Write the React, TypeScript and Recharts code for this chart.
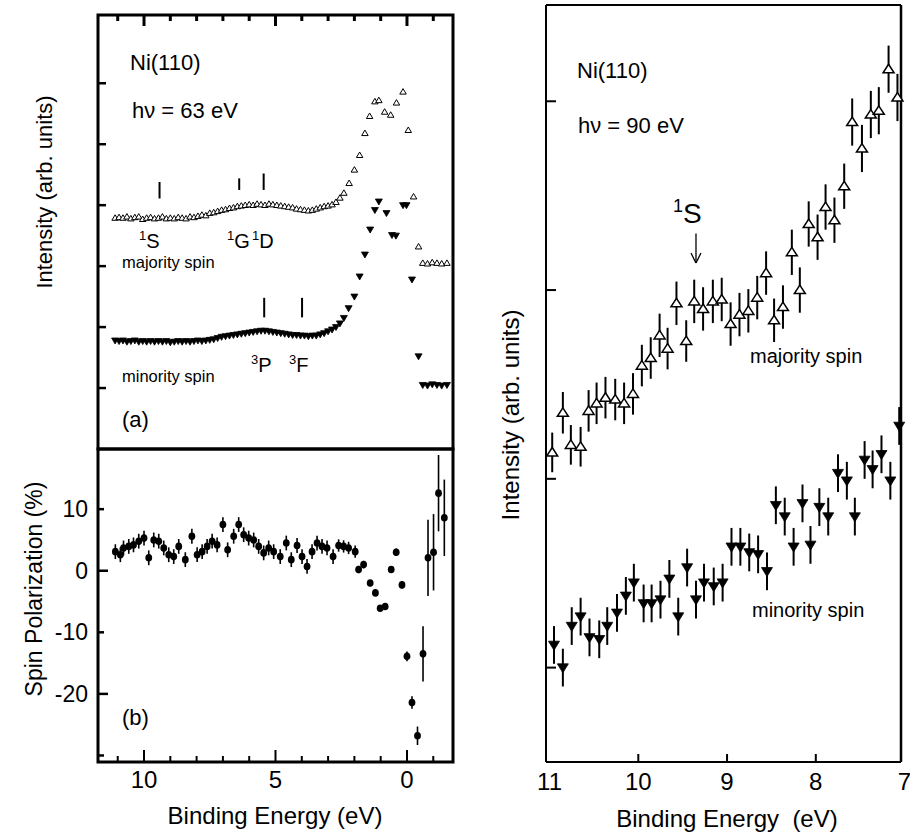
import React from 'react';
import { ScatterChart, Scatter, XAxis, YAxis, ErrorBar, ReferenceLine } from 'recharts';

const FONT = '"Liberation Sans", Arial, Helvetica, sans-serif';

// ---------- Panel (a): spin-resolved intensity, hv = 63 eV ----------
const aMajE = [11.10, 10.95, 10.80, 10.65, 10.50, 10.35, 10.20, 10.05, 9.90, 9.75, 9.60, 9.45, 9.30, 9.15, 9.00, 8.85, 8.70, 8.55, 8.40, 8.25, 8.10, 7.95, 7.80, 7.65, 7.50, 7.35, 7.20, 7.05, 6.90, 6.75, 6.60, 6.45, 6.30, 6.15, 6.00, 5.85, 5.70, 5.55, 5.40, 5.25, 5.10, 4.95, 4.80, 4.65, 4.50, 4.35, 4.20, 4.05, 3.90, 3.75, 3.60, 3.45, 3.30, 3.15, 3.00, 2.85, 2.70, 2.55,
  2.40, 2.20, 2.00, 1.80, 1.60, 1.42, 1.22, 1.07, 0.85, 0.62, 0.40, 0.15, -0.05, -0.25, -0.44, -0.60, -0.78, -0.96, -1.14, -1.32, -1.52];
const aMajI = [3.79, 3.80, 3.79, 3.81, 3.78, 3.80, 3.81, 3.77, 3.79, 3.80, 3.78, 3.79, 3.81, 3.78, 3.79, 3.78, 3.80, 3.79, 3.78, 3.81, 3.80, 3.82, 3.84, 3.83, 3.87, 3.88, 3.90, 3.92, 3.93, 3.95, 3.96, 3.98, 3.99, 4.00, 4.01, 4.00, 4.02, 4.01, 4.00, 4.02, 4.01, 4.00, 3.99, 3.98, 3.97, 3.96, 3.94, 3.93, 3.92, 3.91, 3.92, 3.94, 3.96, 3.98, 3.99, 4.01, 4.05, 4.12,
  4.20, 4.36, 4.58, 4.82, 5.18, 5.46, 5.70, 5.72, 5.53, 5.48, 5.68, 5.86, 5.23, 4.14, 3.32, 3.05, 3.04, 3.06, 3.05, 3.04, 3.05];
const aMinE = [11.10, 10.95, 10.80, 10.65, 10.50, 10.35, 10.20, 10.05, 9.90, 9.75, 9.60, 9.45, 9.30, 9.15, 9.00, 8.85, 8.70, 8.55, 8.40, 8.25, 8.10, 7.95, 7.80, 7.65, 7.50, 7.35, 7.20, 7.05, 6.90, 6.75, 6.60, 6.45, 6.30, 6.15, 6.00, 5.85, 5.70, 5.55, 5.40, 5.25, 5.10, 4.95, 4.80, 4.65, 4.50, 4.35, 4.20, 4.05, 3.90, 3.75, 3.60, 3.45, 3.30, 3.15, 3.00, 2.85, 2.70, 2.55,
  2.40, 2.22, 2.00, 1.80, 1.60, 1.40, 1.22, 1.07, 0.78, 0.57, 0.42, 0.15, 0.02, -0.19, -0.44, -0.60, -0.78, -0.96, -1.14, -1.32, -1.52];
const aMinI = [1.78, 1.77, 1.78, 1.76, 1.77, 1.78, 1.76, 1.77, 1.76, 1.77, 1.76, 1.77, 1.76, 1.77, 1.75, 1.76, 1.77, 1.76, 1.77, 1.76, 1.77, 1.78, 1.77, 1.78, 1.79, 1.80, 1.82, 1.84, 1.85, 1.86, 1.87, 1.88, 1.89, 1.90, 1.91, 1.92, 1.93, 1.94, 1.94, 1.93, 1.92, 1.91, 1.90, 1.89, 1.88, 1.87, 1.87, 1.86, 1.86, 1.85, 1.86, 1.86, 1.88, 1.90, 1.93, 1.96, 2.00, 2.06,
  2.15, 2.31, 2.50, 2.83, 3.19, 3.60, 3.92, 4.06, 3.87, 3.51, 3.50, 4.00, 4.00, 2.78, 1.52, 1.05, 1.04, 1.06, 1.05, 1.04, 1.05];

// ---------- Panel (b): spin polarization ----------
const bE = [11.09, 10.90, 10.78, 10.58, 10.40, 10.20, 10.00, 9.82, 9.63, 9.44, 9.25, 9.06, 8.87, 8.68, 8.43, 8.18, 7.98, 7.79, 7.60, 7.41, 7.22, 7.00, 6.82, 6.59, 6.40, 6.21, 6.02, 5.83, 5.64, 5.45, 5.26, 5.07, 4.82, 4.59, 4.40, 4.18, 3.99, 3.80, 3.61, 3.42, 3.23, 3.04, 2.81, 2.60, 2.41, 2.22, 1.97, 1.84, 1.65, 1.40, 1.20, 1.02, 0.83, 0.60, 0.41, 0.19, 0.00, -0.19, -0.40, -0.61, -0.80, -1.01, -1.20, -1.42];
const bP = [3.1, 2.6, 3.7, 3.95, 4.2, 4.8, 5.3, 2.1, 5.0, 4.8, 3.7, 2.6, 2.3, 3.95, 1.8, 5.6, 2.6, 3.1, 3.95, 4.8, 4.2, 7.5, 3.4, 5.6, 7.5, 5.85, 5.3, 5.0, 3.95, 2.9, 3.7, 3.1, 2.3, 4.5, 1.8, 4.1, 2.3, 0.7, 3.1, 4.5, 3.95, 3.7, 2.3, 4.1, 3.95, 3.7, 3.1, 0.2, 1.0, -2.0, -3.6, -6.1, -5.8, 0.2, 3.0, -2.3, -13.9, -21.4, -26.8, -13.5, 2.1, 3.0, 12.6, 8.6];
const bErr = [1.2, 1.2, 1.2, 1.2, 1.2, 1.2, 1.2, 1.2, 1.2, 1.2, 1.2, 1.2, 1.2, 1.2, 1.2, 1.2, 1.2, 1.2, 1.2, 1.2, 1.2, 1.2, 1.2, 1.2, 1.2, 1.2, 1.2, 1.2, 1.2, 1.2, 1.2, 1.2, 1.2, 1.2, 1.2, 1.2, 1.2, 1.2, 1.2, 1.2, 1.2, 1.2, 1.2, 1.0, 1.0, 1.0, 1.0, 0.6, 0.6, 0.5, 0.5, 0.5, 0.5, 0.5, 0.6, 0.6, 0.8, 1.0, 1.5, 4.5, 6.2, 6.2, 6.2, 6.2];

// ---------- Right panel: hv = 90 eV ----------
const cMajE = [10.97, 10.85, 10.76, 10.65, 10.56, 10.47, 10.37, 10.26, 10.16, 10.06, 9.96, 9.86, 9.76, 9.67, 9.57, 9.46, 9.37, 9.27, 9.16, 9.06, 8.96, 8.86, 8.76, 8.66, 8.56, 8.47, 8.37, 8.27, 8.18, 8.08, 7.98, 7.89, 7.79, 7.68, 7.59, 7.48, 7.38, 7.29, 7.18, 7.08];
const cMajI = [1.64, 1.85, 1.68, 1.67, 1.86, 1.90, 1.93, 1.92, 1.90, 1.95, 2.10, 2.14, 2.26, 2.19, 2.43, 2.23, 2.44, 2.40, 2.44, 2.45, 2.32, 2.37, 2.39, 2.46, 2.59, 2.34, 2.41, 2.70, 2.50, 2.85, 2.78, 2.94, 2.87, 3.05, 3.39, 3.25, 3.43, 3.45, 3.67, 3.52];
const cMajErr = [0.105, 0.11, 0.105, 0.105, 0.11, 0.11, 0.11, 0.11, 0.11, 0.11, 0.11, 0.11, 0.115, 0.11, 0.115, 0.11, 0.115, 0.115, 0.115, 0.115, 0.115, 0.115, 0.115, 0.115, 0.115, 0.115, 0.115, 0.12, 0.12, 0.12, 0.12, 0.12, 0.12, 0.12, 0.125, 0.125, 0.125, 0.125, 0.125, 0.125];
const cMinE = [10.95, 10.85, 10.75, 10.65, 10.55, 10.44, 10.35, 10.24, 10.14, 10.05, 9.94, 9.85, 9.75, 9.65, 9.55, 9.45, 9.35, 9.26, 9.15, 9.05, 8.95, 8.85, 8.75, 8.65, 8.55, 8.45, 8.35, 8.25, 8.15, 8.06, 7.96, 7.86, 7.75, 7.65, 7.56, 7.45, 7.36, 7.26, 7.16, 7.06];
const cMinI = [0.62, 0.50, 0.72, 0.77, 0.66, 0.65, 0.72, 0.79, 0.88, 0.95, 0.84, 0.84, 0.86, 0.97, 0.77, 1.03, 0.86, 0.95, 0.93, 0.95, 1.14, 1.14, 1.11, 1.10, 1.01, 1.36, 1.30, 1.14, 1.37, 1.15, 1.35, 1.30, 1.53, 1.49, 1.30, 1.60, 1.55, 1.63, 1.49, 1.78];
const cMinErr = [0.1, 0.1, 0.1, 0.1, 0.1, 0.1, 0.1, 0.1, 0.1, 0.1, 0.1, 0.1, 0.1, 0.1, 0.1, 0.1, 0.1, 0.1, 0.1, 0.1, 0.1, 0.1, 0.1, 0.1, 0.1, 0.1, 0.1, 0.1, 0.1, 0.1, 0.1, 0.1, 0.1, 0.1, 0.1, 0.1, 0.1, 0.1, 0.1, 0.1];

// ---------- Axis ticks ----------
const leftXTicks = [-1, 0, 1, 2, 3, 4, 5, 6, 7, 8, 9, 10, 11];
const leftXMajor = [0, 5, 10];
const aYTicks = [1, 2, 3, 4, 5, 6];
const bYTicks = [10, 0, -10, -20, -30];
const bYLabels = [10, 0, -10, -20];
const cXTicks = [7, 8, 9, 10, 11];
const cXLines = [8, 9, 10];
const cYTicks = [0.5, 1.5, 2.5, 3.5];

// ---------- Axis ranges and left-column frame (plot box in page pixels) ----------
const LX0 = -1.75, LX1 = 11.75;
const AY0 = 0, AY1 = 7.12;
const BY0 = -31.06, BY1 = 19.77;
const PL = 98, PR = 453, PA_TOP = 15, PA_BOT = 449, PB_BOT = 762;

const aMaj = aMajE.map((e, i) => ({ e, v: aMajI[i] }));
const aMin = aMinE.map((e, i) => ({ e, v: aMinI[i] }));
const bPol = bE.map((e, i) => ({ e, v: bP[i], err: bErr[i] }));
const cMaj = cMajE.map((e, i) => ({ e, v: cMajI[i], err: cMajErr[i] }));
const cMin = cMinE.map((e, i) => ({ e, v: cMinI[i], err: cMinErr[i] }));

type Side = 'top' | 'bottom' | 'left' | 'right';
interface TickOpts { side: Side; major: number[]; labels: number[]; majorLen: number; minorLen: number; fs?: number; sw?: number; off?: number; }
const has = (arr: number[], v: number) => arr.some((m) => Math.abs(m - v) < 1e-6);
const makeTick = (o: TickOpts) => (props: any) => {
  const x = Number(props.x);
  const y = Number(props.y);
  const v = Number(props.payload.value);
  const len = has(o.major, v) ? o.majorLen : o.minorLen;
  let x2 = x, y2 = y;
  if (o.side === 'bottom') y2 = y - len;
  if (o.side === 'top') y2 = y + len;
  if (o.side === 'left') x2 = x + len;
  if (o.side === 'right') x2 = x - len;
  let label: any = null;
  if (has(o.labels, v)) {
    const fs = o.fs ?? 24;
    if (o.side === 'bottom') label = <text x={x} y={y + (o.off ?? 26)} textAnchor="middle" fontSize={fs} fontFamily={FONT} fill="#000" stroke="none">{v}</text>;
    if (o.side === 'left') label = <text x={x - (o.off ?? 10)} y={y + 8} textAnchor="end" fontSize={fs} fontFamily={FONT} fill="#000" stroke="none">{v}</text>;
  }
  return (
    <g>
      {len > 0 && <path d={`M${x},${y}L${x2},${y2}`} stroke="#000" strokeWidth={o.sw ?? 2} fill="none" />}
      {label}
    </g>
  );
};

const upTri = (w: number, h: number, sw: number) => (p: any) => (
  <path d={`M${p.cx},${p.cy - h * 0.58} L${p.cx + w / 2},${p.cy + h * 0.42} L${p.cx - w / 2},${p.cy + h * 0.42} Z`} fill="#fff" stroke="#000" strokeWidth={sw} />
);
const downTri = (w: number, h: number) => (p: any) => (
  <path d={`M${p.cx},${p.cy + h * 0.58} L${p.cx + w / 2},${p.cy - h * 0.42} L${p.cx - w / 2},${p.cy - h * 0.42} Z`} fill="#000" stroke="#000" strokeWidth={0.8} />
);
const dot = (p: any) => <ellipse cx={p.cx} cy={p.cy} rx={3.4} ry={3.8} fill="#000" />;

function ChartA() {
  return (
    <ScatterChart width={470} height={455} margin={{ top: 0, right: 0, bottom: 0, left: 0 }}>
      <XAxis xAxisId="b" type="number" dataKey="e" domain={[LX0, LX1]} reversed height={6} ticks={[0, 5, 10]} tickSize={0} tickMargin={0} axisLine={{ stroke: '#000', strokeWidth: 2 }}
        tick={makeTick({ side: 'bottom', major: [], labels: [], majorLen: 0, minorLen: 0 })} />
      <XAxis xAxisId="t" orientation="top" type="number" dataKey="e" domain={[LX0, LX1]} reversed height={15} ticks={leftXTicks} interval={0} tickSize={0} tickMargin={0} axisLine={{ stroke: '#000', strokeWidth: 2 }}
        tick={makeTick({ side: 'top', major: leftXMajor, labels: [], majorLen: 11, minorLen: 6 })} />
      <YAxis yAxisId="l" type="number" dataKey="v" domain={[AY0, AY1]} width={98} ticks={aYTicks} interval={0} tickSize={0} tickMargin={0} axisLine={{ stroke: '#000', strokeWidth: 2 }}
        tick={makeTick({ side: 'left', major: aYTicks, labels: [], majorLen: 8, minorLen: 8, sw: 2.5 })} />
      <YAxis yAxisId="r" orientation="right" type="number" dataKey="v" domain={[AY0, AY1]} width={17} ticks={aYTicks} interval={0} tickSize={0} tickMargin={0} axisLine={{ stroke: '#000', strokeWidth: 2 }}
        tick={makeTick({ side: 'right', major: aYTicks, labels: [], majorLen: 7, minorLen: 7, sw: 2.5 })} />
      <Scatter xAxisId="b" yAxisId="l" data={aMin} shape={downTri(7, 6)} isAnimationActive={false} />
      <Scatter xAxisId="b" yAxisId="l" data={aMaj} shape={upTri(6.5, 5.5, 1)} isAnimationActive={false} />
      <ReferenceLine xAxisId="b" yAxisId="l" segment={[{ x: 9.41, y: 4.11 }, { x: 9.41, y: 4.38 }]} stroke="#000" strokeWidth={2} />
      <ReferenceLine xAxisId="b" yAxisId="l" segment={[{ x: 6.38, y: 4.25 }, { x: 6.38, y: 4.44 }]} stroke="#000" strokeWidth={2} />
      <ReferenceLine xAxisId="b" yAxisId="l" segment={[{ x: 5.45, y: 4.25 }, { x: 5.45, y: 4.52 }]} stroke="#000" strokeWidth={2} />
      <ReferenceLine xAxisId="b" yAxisId="l" segment={[{ x: 5.43, y: 2.16 }, { x: 5.43, y: 2.48 }]} stroke="#000" strokeWidth={2} />
      <ReferenceLine xAxisId="b" yAxisId="l" segment={[{ x: 3.99, y: 2.16 }, { x: 3.99, y: 2.48 }]} stroke="#000" strokeWidth={2} />
    </ScatterChart>
  );
}

function ChartB() {
  return (
    <ScatterChart width={470} height={386} margin={{ top: 0, right: 0, bottom: 0, left: 0 }}>
      <XAxis xAxisId="b" type="number" dataKey="e" domain={[LX0, LX1]} reversed height={73} ticks={leftXTicks} interval={0} tickSize={0} tickMargin={0} axisLine={{ stroke: '#000', strokeWidth: 2 }}
        tick={makeTick({ side: 'bottom', major: leftXMajor, labels: leftXMajor, majorLen: 12, minorLen: 6, fs: 24, off: 26 })} />
      <YAxis yAxisId="l" type="number" dataKey="v" domain={[BY0, BY1]} width={98} ticks={bYTicks} interval={0} tickSize={0} tickMargin={0} axisLine={{ stroke: '#000', strokeWidth: 2 }}
        tick={makeTick({ side: 'left', major: [0, -20], labels: bYLabels, majorLen: 10, minorLen: 6, fs: 23, off: 10, sw: 2.5 })} />
      <YAxis yAxisId="r" orientation="right" type="number" dataKey="v" domain={[BY0, BY1]} width={17} ticks={bYTicks} interval={0} tickSize={0} tickMargin={0} axisLine={{ stroke: '#000', strokeWidth: 2 }}
        tick={makeTick({ side: 'right', major: bYTicks, labels: [], majorLen: 8, minorLen: 8, sw: 2.5 })} />
      <Scatter xAxisId="b" yAxisId="l" data={bPol} shape={dot} isAnimationActive={false}>
        <ErrorBar dataKey="err" direction="y" width={0} stroke="#000" strokeWidth={1.6} />
      </Scatter>
    </ScatterChart>
  );
}

function ChartC() {
  return (
    <ScatterChart width={470} height={835} margin={{ top: 0, right: 0, bottom: 0, left: 0 }}>
      <XAxis xAxisId="b" type="number" dataKey="e" domain={[7.04, 11.04]} reversed height={73} ticks={cXTicks} interval={0} tickSize={0} tickMargin={0} axisLine={{ stroke: '#000', strokeWidth: 2 }}
        tick={makeTick({ side: 'bottom', major: cXLines, labels: cXTicks, majorLen: 8, minorLen: 0, fs: 24, off: 28, sw: 2 })} />
      <XAxis xAxisId="t" orientation="top" type="number" dataKey="e" domain={[7.04, 11.04]} reversed height={5} ticks={cXLines} interval={0} tickSize={0} tickMargin={0} axisLine={{ stroke: '#000', strokeWidth: 2 }}
        tick={makeTick({ side: 'top', major: cXLines, labels: [], majorLen: 10, minorLen: 10, sw: 2 })} />
      <YAxis yAxisId="l" type="number" dataKey="v" domain={[0, 4.01]} width={106} ticks={cYTicks} interval={0} tickSize={0} tickMargin={0} axisLine={{ stroke: '#000', strokeWidth: 2 }}
        tick={makeTick({ side: 'left', major: cYTicks, labels: [], majorLen: 10, minorLen: 10, sw: 2 })} />
      <YAxis yAxisId="r" orientation="right" type="number" dataKey="v" domain={[0, 4.01]} width={9} ticks={cYTicks} interval={0} tickSize={0} tickMargin={0} axisLine={{ stroke: '#000', strokeWidth: 2.5 }}
        tick={makeTick({ side: 'right', major: cYTicks, labels: [], majorLen: 9, minorLen: 9, sw: 2 })} />
      <Scatter xAxisId="b" yAxisId="l" data={cMaj} shape={upTri(11, 8.5, 1.5)} isAnimationActive={false}>
        <ErrorBar dataKey="err" direction="y" width={0} stroke="#000" strokeWidth={2} />
      </Scatter>
      <Scatter xAxisId="b" yAxisId="l" data={cMin} shape={downTri(11, 9)} isAnimationActive={false}>
        <ErrorBar dataKey="err" direction="y" width={0} stroke="#000" strokeWidth={2} />
      </Scatter>
      <ReferenceLine xAxisId="b" yAxisId="l" segment={[{ x: 9.35, y: 2.80 }, { x: 9.35, y: 2.643 }]} stroke="#000" strokeWidth={1.3} />
      <ReferenceLine xAxisId="b" yAxisId="l" segment={[{ x: 9.406, y: 2.696 }, { x: 9.35, y: 2.643 }]} stroke="#000" strokeWidth={1.3} />
      <ReferenceLine xAxisId="b" yAxisId="l" segment={[{ x: 9.294, y: 2.696 }, { x: 9.35, y: 2.643 }]} stroke="#000" strokeWidth={1.3} />
    </ScatterChart>
  );
}

const T = (p: any) => <text fontFamily={FONT} fill="#000" {...p} />;
// pixel position of a top-axis tick of panel (a), same linear mapping as the reversed x axis
const topTickX = (t: number) => PL + ((LX1 - t) / (LX1 - LX0)) * (PR - PL);

export default function App() {
  return (
    <div style={{ position: 'absolute', left: 0, top: 0, width: 910, height: 835, background: '#fff', overflow: 'hidden' }}>
      <div style={{ position: 'absolute', left: 0, top: 0 }}><ChartA /></div>
      <div style={{ position: 'absolute', left: 0, top: 449 }}><ChartB /></div>
      <div style={{ position: 'absolute', left: 440, top: 0 }}><ChartC /></div>
      <svg width={910} height={835} style={{ position: 'absolute', left: 0, top: 0, pointerEvents: 'none' }}>
        {/* frames of panels (a) and (b) */}
        <rect x={PL} y={PA_TOP} width={PR - PL} height={PA_BOT - PA_TOP} fill="none" stroke="#000" strokeWidth={3} />
        <rect x={PL} y={PA_BOT} width={PR - PL} height={PB_BOT - PA_BOT} fill="none" stroke="#000" strokeWidth={3} />
        {leftXTicks.map((t) => (
          <line key={'tt' + t} x1={topTickX(t)} x2={topTickX(t)} y1={PA_TOP} y2={PA_TOP + (has(leftXMajor, t) ? 11 : 6)} stroke="#000" strokeWidth={3} />
        ))}
        {/* panel (a) annotations */}
        <T x={130} y={70} fontSize={22}>Ni(110)</T>
        <T x={132} y={118} fontSize={22}>hν = 63 eV</T>
        <T x={139} y={248} fontSize={20}><tspan fontSize={13} dy={-8}>1</tspan><tspan dy={8}>S</tspan></T>
        <T x={227} y={248} fontSize={20}><tspan fontSize={13} dy={-8}>1</tspan><tspan dy={8}>G</tspan></T>
        <T x={252} y={248} fontSize={20}><tspan fontSize={13} dy={-8}>1</tspan><tspan dy={8}>D</tspan></T>
        <T x={251} y={372} fontSize={20}><tspan fontSize={13} dy={-8}>3</tspan><tspan dy={8}>P</tspan></T>
        <T x={289} y={372} fontSize={20}><tspan fontSize={13} dy={-8}>3</tspan><tspan dy={8}>F</tspan></T>
        <T x={122} y={268} fontSize={16.5}>majority spin</T>
        <T x={122} y={382} fontSize={16.5}>minority spin</T>
        <T x={122} y={427} fontSize={22}>(a)</T>
        <T x={122} y={725} fontSize={22}>(b)</T>
        {/* left axis titles */}
        <T x={275} y={824} fontSize={24} textAnchor="middle">Binding Energy (eV)</T>
        <T transform="translate(52,192) rotate(-90)" fontSize={22} textAnchor="middle">Intensity (arb. units)</T>
        <T transform="translate(42,589) rotate(-90)" fontSize={23} textAnchor="middle">Spin Polarization (%)</T>
        {/* right panel annotations */}
        <T x={577} y={78} fontSize={22}>Ni(110)</T>
        <T x={578} y={133} fontSize={22}>hν = 90 eV</T>
        <T x={673} y={223} fontSize={28}><tspan fontSize={18} dy={-11}>1</tspan><tspan dy={11}>S</tspan></T>
        <T x={750} y={363} fontSize={20}>majority spin</T>
        <T x={752} y={617} fontSize={20}>minority spin</T>
        <T x={727} y={827} fontSize={24} textAnchor="middle" style={{ whiteSpace: 'pre' }}>Binding Energy  (eV)</T>
        <T transform="translate(519,415) rotate(-90)" fontSize={24} textAnchor="middle">Intensity (arb. units)</T>
      </svg>
    </div>
  );
}
